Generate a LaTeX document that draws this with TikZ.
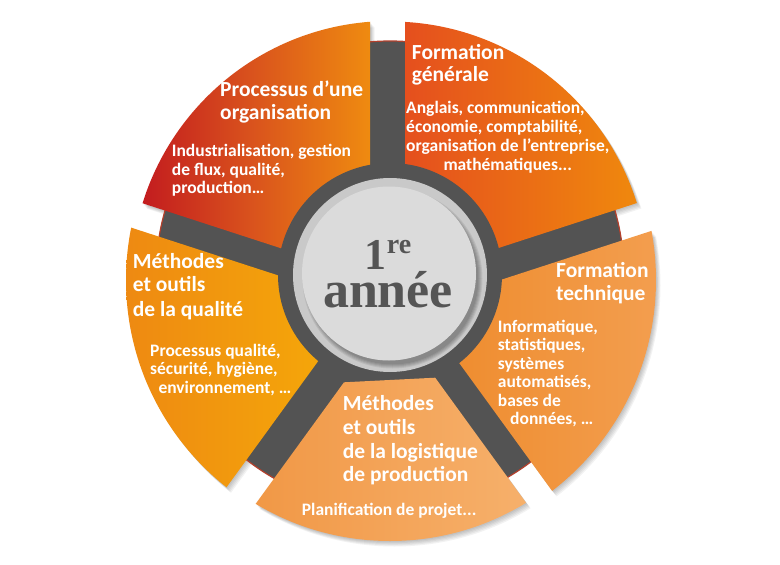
\documentclass[tikz,border=0pt]{standalone}
\usepackage{fontspec}
\setmainfont{Carlito}
\newfontfamily\hubfont{Liberation Serif}
\definecolor{dk}{HTML}{535353}
\definecolor{rimred}{HTML}{B4402C}
\definecolor{hubtxt}{HTML}{555555}
\definecolor{aL}{HTML}{C0161F}\definecolor{aM}{HTML}{D9521D}\definecolor{aR}{HTML}{EF8B10}
\definecolor{bL}{HTML}{E54F1E}\definecolor{bR}{HTML}{F08C0C}
\definecolor{cL}{HTML}{EE8A2A}\definecolor{cR}{HTML}{F39E4F}
\definecolor{dL}{HTML}{F19846}\definecolor{dR}{HTML}{F6B06B}
\definecolor{eL}{HTML}{EE8912}\definecolor{eR}{HTML}{F6AC08}
\def\PA{(370,277.2) -- (370,-50) -- (-100,-50) -- (-100,124.4) -- cycle}
\def\PB{(405,278.4) -- (405,-50) -- (900,-50) -- (900,117.5) -- cycle}
\def\PC{(418.3,306.7) -- (900,150.1) -- (900,900) -- (849.3,900) -- cycle}
\def\PD{(344,382.3) -- (435.2,377.7) -- (742,800) -- (40.4,800) -- cycle}
\def\PE{(360.9,302.3) -- (-100,152.5) -- (-100,900) -- (-73.3,900) -- cycle}
\newcommand\sshadow[2]{%
  \foreach \k in {1,...,5}{%
    \begin{scope}[shift={(0.9*\k,1.1*\k)}]
      \clip #1;
      \fill[black,opacity=0.05] (390,280) circle[radius=#2];
    \end{scope}}}
\newcommand\ssector[4]{%
  \begin{scope}
    \clip #1;
    \clip (390,280) circle[radius=#2];
    \shade[#3] #4;
  \end{scope}}
\begin{document}
\begin{tikzpicture}[x=1pt,y=-1pt,
  ttl/.style={text=white,font=\fontsize{21.5}{24}\selectfont\bfseries,anchor=base west,inner sep=0pt},
  bdy/.style={text=white,font=\fontsize{17.5}{19}\selectfont\bfseries,anchor=base west,inner sep=0pt},
  hubt/.style={text=hubtxt,inner sep=0pt}]
\useasboundingbox (0,0) rectangle (780,565);
\fill[white] (0,0) rectangle (780,565);
% shadows
\sshadow{\PA}{259}
\sshadow{\PB}{258.5}
\sshadow{\PC}{266}
\sshadow{\PD}{261}
\sshadow{\PE}{264}
% dark wheel
\fill[dk] (390,275) circle[radius=234];
\draw[rimred,line width=1.2pt] (390,275) circle[radius=234];
% sectors
\ssector{\PA}{259}{left color=aL,right color=aR,middle color=aM}{(130,15) rectangle (371,290)}
\ssector{\PB}{258.5}{left color=bL,right color=bR}{(404,15) rectangle (652,290)}
\ssector{\PC}{266}{left color=cL,right color=cR}{(418,150) rectangle (660,505)}
\ssector{\PE}{264}{left color=eL,right color=eR}{(122,150) rectangle (362,490)}
% hub ring
\fill[dk] (390,275) circle[radius=112];
\ssector{\PD}{261}{left color=dL,right color=dR}{(255,376) rectangle (526,545)}
% hub light disc
\fill[black!21] (390,275) circle[radius=97];
\foreach \k in {0,...,4}{\fill[black,opacity=0.07] (392.5,278.5) circle[radius=86+\k];}
\fill[black!14] (389,273.5) circle[radius=87];
% hub text (one node, two lines; base = baseline of last line)
\node[hubt,font=\hubfont\bfseries,align=center,anchor=base] (hubtext) at (388,307)
  {\fontsize{44}{44}\selectfont 1\raisebox{16pt}{\fontsize{28}{28}\selectfont re}\\
   \fontsize{52}{44}\selectfont année};
% sector 1
\node[ttl] (t1a) at (220,96.7) {Processus d’une};
\node[ttl] (t1b) at (220,119.3) {organisation};
\node[bdy] (b1a) at (171.7,156.7) {Industrialisation, gestion};
\node[bdy] (b1b) at (171.7,175) {de flux, qualité,};
\node[bdy] (b1c) at (171.7,193.5) {production…};
% sector 2
\node[ttl] (t2a) at (411.7,59.3) {Formation};
\node[ttl] (t2b) at (411.7,81.7) {générale};
\node[bdy] (b2a) at (406,113.3) {Anglais, communication,};
\node[bdy] (b2b) at (406,132.7) {économie, comptabilité,};
\node[bdy] (b2c) at (406,151.7) {organisation de l’entreprise,};
\node[bdy] (b2d) at (443.3,170) {mathématiques...};
% sector 3
\node[ttl] (t3a) at (556,277.3) {Formation};
\node[ttl] (t3b) at (556,300.7) {technique};
\node[bdy] (b3a) at (497.7,332.7) {Informatique,};
\node[bdy] (b3b) at (497.7,350.7) {statistiques,};
\node[bdy] (b3c) at (497.7,369.3) {systèmes};
\node[bdy] (b3d) at (497.7,387.7) {automatisés,};
\node[bdy] (b3e) at (497.7,406) {bases de};
\node[bdy] (b3f) at (510,424.3) {données, …};
% sector 4
\node[ttl] (t4a) at (342.7,410) {Méthodes};
\node[ttl] (t4b) at (342.7,434.3) {et outils};
\node[ttl] (t4c) at (342.7,458.3) {de la logistique};
\node[ttl] (t4d) at (342.7,481.7) {de production};
\node[bdy] (b4a) at (301.7,515) {Planification de projet...};
% sector 5
\node[ttl] (t5a) at (132.7,268.3) {Méthodes};
\node[ttl] (t5b) at (132.7,291.7) {et outils};
\node[ttl] (t5c) at (132.7,316.7) {de la qualité};
\node[bdy] (b5a) at (150,356.7) {Processus qualité,};
\node[bdy] (b5b) at (150,374.3) {sécurité, hygiène,};
\node[bdy] (b5c) at (158.3,393.3) {environnement, …};
\end{tikzpicture}
\end{document}
